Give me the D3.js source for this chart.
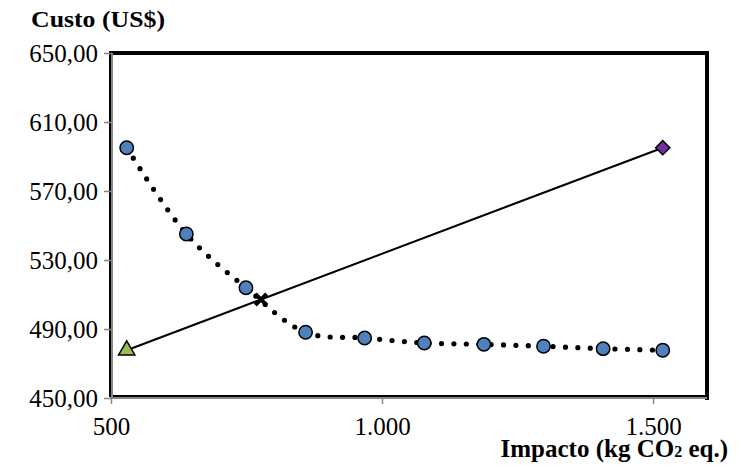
<!DOCTYPE html>
<html>
<head>
<meta charset="utf-8">
<script src="https://cdn.jsdelivr.net/npm/d3@7"></script>
<style>
  html, body { margin: 0; padding: 0; background: #fff; }
  svg { display: block; }
  text { font-family: "Liberation Serif", "Times New Roman", serif; fill: #000; }
</style>
</head>
<body>
<svg id="chart" width="744" height="472"></svg>
<script>
// Fronteira de Pareto: impacto (kg CO2 eq.) x custo (US$)
const impacto = [529, 639, 749, 859, 968, 1078, 1188, 1298, 1408, 1518];
const custo   = [595.1, 545.1, 513.9, 488.1, 484.8, 481.9, 481.1, 480.0, 478.6, 477.7];

// Pontos extremos e solução de compromisso
const utopiaPt    = [529, 477.7];   // triângulo
const nadirPt     = [1518, 595.1];  // losango
const compromisso = [776.7, 507.1]; // cruz

const xTicks = [500, 1000, 1500];
const yTicks = [450, 490, 530, 570, 610, 650];

const locale = d3.formatLocale({ decimal: ",", thousands: ".", grouping: [3], currency: ["US$", ""] });
const fmtY = locale.format(",.2f");
const fmtX = locale.format(",.0f");

const svg = d3.select("#chart");

const x = d3.scaleLinear().domain([500, 1600]).range([111, 707.2]);
const y = d3.scaleLinear().domain([450, 650]).range([398, 53]);

// Moldura da área de plotagem
svg.append("rect")
  .attr("x", 110).attr("y", 53)
  .attr("width", 597).attr("height", 343)
  .attr("fill", "none").attr("stroke", "#000").attr("stroke-width", 2);
svg.append("line").attr("x1", 109).attr("x2", 709).attr("y1", 53).attr("y2", 53)
  .attr("stroke", "#000").attr("stroke-width", 4);
svg.append("line").attr("x1", 707).attr("x2", 707).attr("y1", 51).attr("y2", 400)
  .attr("stroke", "#000").attr("stroke-width", 4);

// Eixos
const yAxis = d3.axisLeft(y).tickValues(yTicks).tickFormat(fmtY).tickSize(8).tickPadding(6);
const gy = svg.append("g").attr("transform", "translate(112,0)").call(yAxis);
const xAxis = d3.axisBottom(x).tickValues(xTicks).tickFormat(fmtX).tickSize(6).tickPadding(13);
const gx = svg.append("g").attr("transform", "translate(0,398)").call(xAxis);

[gx, gy].forEach(g => {
  g.select(".domain").remove();
  g.selectAll(".tick line").attr("stroke", "#868686").attr("stroke-width", 1.5);
  g.selectAll(".tick text").attr("font-size", 25).attr("font-family", "Liberation Serif").attr("fill", "#000");
});
gx.selectAll(".tick text").attr("dy", "0.71em");

svg.append("line").attr("x1", 112).attr("x2", 112).attr("y1", 53).attr("y2", 399)
  .attr("stroke", "#868686").attr("stroke-width", 2);
svg.append("line").attr("x1", 110).attr("x2", 707).attr("y1", 398).attr("y2", 398)
  .attr("stroke", "#868686").attr("stroke-width", 2);

// Reta entre os pontos extremos
svg.append("line")
  .attr("x1", x(utopiaPt[0])).attr("y1", y(utopiaPt[1]))
  .attr("x2", x(nadirPt[0])).attr("y2", y(nadirPt[1]))
  .attr("stroke", "#000").attr("stroke-width", 2);

// Curva pontilhada da fronteira
const pts = impacto.map((d, i) => [d, custo[i]]);
const line = d3.line().x(d => x(d[0])).y(d => y(d[1])).curve(d3.curveCatmullRom.alpha(0.5));
svg.append("path")
  .attr("d", line(pts))
  .attr("fill", "none").attr("stroke", "#000")
  .attr("stroke-width", 5.2).attr("stroke-linecap", "round")
  .attr("stroke-dasharray", "0 12.4");

// Soluções
svg.append("g").selectAll("circle").data(pts).join("circle")
  .attr("cx", d => x(d[0])).attr("cy", d => y(d[1])).attr("r", 6.7)
  .attr("fill", "#4F81BD").attr("stroke", "#000").attr("stroke-width", 1.5);

svg.append("path")
  .attr("d", d3.symbol(d3.symbolTriangle, 115)())
  .attr("transform", `translate(${x(utopiaPt[0])},${y(utopiaPt[1])})`)
  .attr("fill", "#9BBB59").attr("stroke", "#000").attr("stroke-width", 1.5);

svg.append("path")
  .attr("d", d3.symbol(d3.symbolSquare, 100)())
  .attr("transform", `translate(${x(nadirPt[0])},${y(nadirPt[1])}) rotate(45)`)
  .attr("fill", "#7030A0").attr("stroke", "#000").attr("stroke-width", 1.5);

svg.append("path")
  .attr("d", d3.symbol(d3.symbolX, 85)())
  .attr("transform", `translate(${x(compromisso[0])},${y(compromisso[1])})`)
  .attr("fill", "none").attr("stroke", "#000").attr("stroke-width", 4);

// Títulos dos eixos
svg.append("text")
  .attr("x", 31).attr("y", 27)
  .attr("font-size", 23).attr("font-weight", "bold")
  .attr("textLength", 134).attr("lengthAdjust", "spacingAndGlyphs")
  .text("Custo (US$)");

const xt = svg.append("text")
  .attr("x", 728).attr("y", 457)
  .attr("text-anchor", "end")
  .attr("font-size", 25).attr("font-weight", "bold");
xt.append("tspan").text("Impacto (kg CO");
xt.append("tspan").attr("font-size", 16).text("2");
xt.append("tspan").text(" eq.)");
</script>
</body>
</html>
